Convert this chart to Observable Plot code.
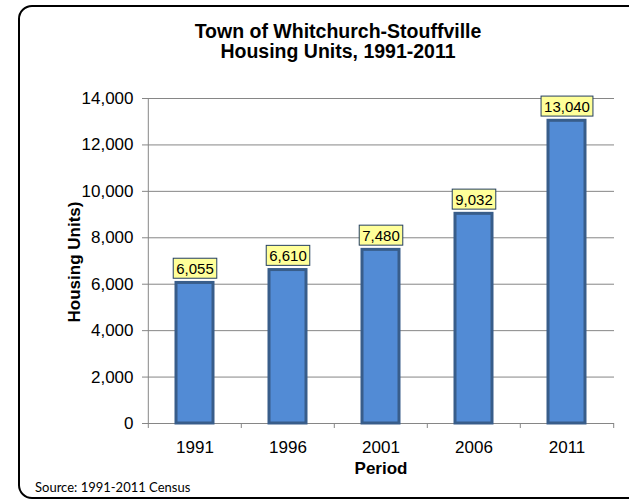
<!DOCTYPE html>
<html><head><meta charset="utf-8">
<script src="https://cdn.jsdelivr.net/npm/d3@7"></script>
<script src="https://cdn.jsdelivr.net/npm/@observablehq/plot@0.6"></script>
<style>
html,body{margin:0;padding:0;background:#fff;overflow:hidden}
#wrap{position:relative;width:629px;height:502px;overflow:hidden;font-family:Arial,"Liberation Sans",sans-serif;color:#000}
#frame{position:absolute;left:18px;top:5px;width:624px;height:494px;border:2px solid #000;border-radius:14px;box-sizing:border-box}
#chart{position:absolute;left:0;top:0}
.t{position:absolute;white-space:nowrap}
#title{left:138px;top:21px;width:400px;text-align:center;font-weight:bold;font-size:19.5px;line-height:20px}
#ylab{left:-25px;top:252px;width:200px;text-align:center;font-weight:bold;font-size:17px;line-height:20px;transform:rotate(-90deg)}
#xlab{left:281px;top:459px;width:200px;text-align:center;font-weight:bold;font-size:17px;line-height:20px}
#src{left:35px;top:480px;font-family:Lato,"Open Sans",sans-serif;font-size:13px;line-height:15px}
</style></head>
<body>
<div id="wrap">
  <div id="frame"></div>
  <div id="chart"></div>
  <div class="t" id="title"></div>
  <div class="t" id="ylab"></div>
  <div class="t" id="xlab"></div>
  <div class="t" id="src"></div>
</div>
<script>
const years = ["1991", "1996", "2001", "2006", "2011"];
const units = [6055, 6610, 7480, 9032, 13040];
const yTicks = [0, 2000, 4000, 6000, 8000, 10000, 12000, 14000];
const titleLines = ["Town of Whitchurch-Stouffville", "Housing Units, 1991-2011"];
const yLabel = "Housing Units)";
const xLabel = "Period";
const source = "Source: 1991-2011 Census";

const data = years.map((year, i) => ({year, units: units[i]}));
const W = 629, H = 502, mL = 147, mR = 15;
const step = (W - mL - mR) / years.length;
const gray = "#868686";
const fmt = d3.format(",");

const chart = Plot.plot({
  width: W, height: H,
  marginLeft: mL, marginRight: mR, marginTop: 98, marginBottom: 79,
  style: {fontFamily: "Arial, 'Liberation Sans', sans-serif", background: "transparent", color: "#000", overflow: "visible"},
  x: {domain: years, paddingInner: 0.6, paddingOuter: 0.3, label: null},
  y: {domain: [0, 14000], label: null},
  marks: [
    Plot.ruleY(yTicks, {stroke: gray, strokeWidth: 1}),
    Plot.ruleX([years[0]], {x: d => d, dx: -step / 2, y1: 0, y2: 14000, stroke: gray}),
    Plot.ruleX(years, {x: d => d, dx: -step / 2, y1: 0, y2: 0, insetTop: 5, stroke: gray}),
    Plot.ruleX([years[years.length - 1]], {x: d => d, dx: step / 2, y1: 0, y2: 0, insetTop: 5, stroke: gray}),
    Plot.axisY({ticks: yTicks, tickFormat: fmt, tickSize: 5, tickPadding: 9, fontSize: 17, stroke: gray, fill: "#000", label: null}),
    Plot.axisX({tickSize: 0, tickPadding: 17, fontSize: 17, fill: "#000", label: null}),
    Plot.barY(data, {x: "year", y: "units", fill: "#528BD5", stroke: "#385D8A", strokeWidth: 3}),
    Plot.text(data, {x: "year", y: "units", text: d => fmt(d.units), dy: -14, fontSize: 15, fill: "#000"})
  ]
});
document.getElementById("chart").appendChild(chart);

// yellow label boxes behind value labels
chart.querySelectorAll('g[aria-label="text"] text').forEach(t => {
  const b = t.getBBox();
  const r = document.createElementNS("http://www.w3.org/2000/svg", "rect");
  r.setAttribute("x", b.x - 3);
  r.setAttribute("y", b.y - 1.5);
  r.setAttribute("width", b.width + 6);
  r.setAttribute("height", b.height + 3);
  r.setAttribute("fill", "#FFFF99");
  r.setAttribute("stroke", "#243F60");
  r.setAttribute("stroke-width", 1);
  const tr = t.getAttribute("transform");
  if (tr) r.setAttribute("transform", tr);
  t.parentNode.insertBefore(r, t);
});

document.getElementById("title").innerHTML = titleLines.join("<br>");
document.getElementById("ylab").textContent = yLabel;
document.getElementById("xlab").textContent = xLabel;
document.getElementById("src").textContent = source;
</script>
</body></html>
